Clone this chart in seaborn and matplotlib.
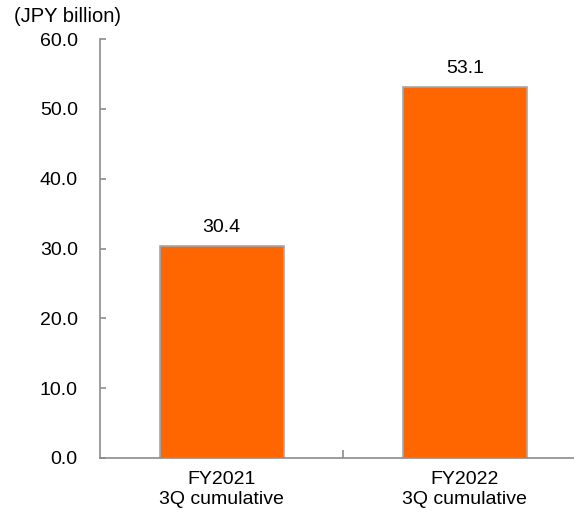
import matplotlib
matplotlib.use("Agg")
import matplotlib.pyplot as plt
from matplotlib.ticker import FixedLocator
import seaborn as sns
import pandas as pd

periods = ["FY2021\n3Q cumulative", "FY2022\n3Q cumulative"]
values = [30.4, 53.1]
y_ticks = [0, 10, 20, 30, 40, 50, 60]
unit_label = "(JPY billion)"

sns.set_style("white")
plt.rcParams["font.family"] = ["Liberation Sans", "DejaVu Sans"]
plt.rcParams["text.color"] = "black"
plt.rcParams["xtick.color"] = "black"
plt.rcParams["ytick.color"] = "black"

df = pd.DataFrame({"period": periods, "value": values})

fig = plt.figure(figsize=(5.74, 5.12), dpi=100)
ax = fig.add_axes([100 / 574, 54 / 512, 1 - 100 / 574, 419 / 512])

sns.barplot(data=df, x="period", y="value", order=periods, ax=ax,
            color="#FF6600", saturation=1, width=0.51,
            edgecolor="#A6A6A6", linewidth=1.2)

axis_color = "#8C8C8C"
fs = 14
ax.set_xlim(-0.5, 1.449)
ax.set_ylim(0, 60)
ax.set_yticks(y_ticks)
ax.set_yticklabels([f"{t:.1f}" for t in y_ticks])
ax.set_xlabel("")
ax.set_ylabel("")

for side in ("top", "right"):
    ax.spines[side].set_visible(False)
for side in ("left", "bottom"):
    ax.spines[side].set_color(axis_color)
    ax.spines[side].set_linewidth(1.2)

ax.tick_params(axis="y", direction="in", length=4, width=1.2, color=axis_color,
               labelcolor="black", labelsize=fs, pad=16, left=True)
ax.tick_params(axis="x", which="major", length=0, labelsize=fs, pad=9.5,
               labelcolor="black")
ax.xaxis.set_minor_locator(FixedLocator([0.5]))
ax.tick_params(axis="x", which="minor", direction="in", length=6, width=1.2,
               color=axis_color, bottom=True)
for lbl in ax.get_xticklabels():
    lbl.set_linespacing(1.2)

for i, v in enumerate(values):
    ax.text(i, v + 1.4, f"{v:.1f}", ha="center", va="bottom", fontsize=fs,
            color="black")

fig.text(14 / 574, 1 - 17 / 512, unit_label, ha="left", va="center",
         fontsize=14.5, color="black")

fig.savefig("out.png", dpi=100)
